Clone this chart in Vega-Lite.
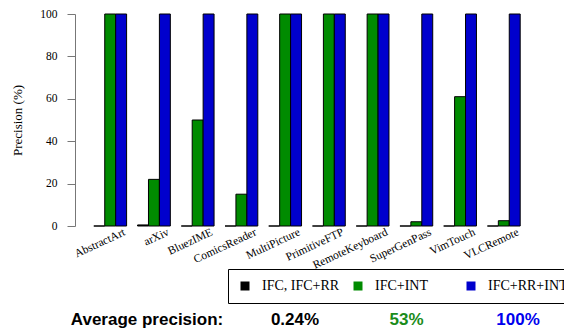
{
  "$schema": "https://vega.github.io/schema/vega-lite/v6.json",
  "padding": {"left": 11, "top": 8, "right": 0, "bottom": 0},
  "spacing": 7,
  "config": {"view": {"stroke": null}, "font": "Liberation Serif"},
  "resolve": {"scale": {"color": "independent", "x": "independent"}, "legend": {"color": "independent"}},
  "vconcat": [
    {
      "width": 464,
      "height": 212,
      "data": {"values": [
        {"app": "AbstractArt", "config": "IFC, IFC+RR", "precision": 0},
        {"app": "AbstractArt", "config": "IFC+INT", "precision": 100},
        {"app": "AbstractArt", "config": "IFC+RR+INT", "precision": 100},
        {"app": "arXiv", "config": "IFC, IFC+RR", "precision": 0.5},
        {"app": "arXiv", "config": "IFC+INT", "precision": 22},
        {"app": "arXiv", "config": "IFC+RR+INT", "precision": 100},
        {"app": "BluezIME", "config": "IFC, IFC+RR", "precision": 0},
        {"app": "BluezIME", "config": "IFC+INT", "precision": 50},
        {"app": "BluezIME", "config": "IFC+RR+INT", "precision": 100},
        {"app": "ComicsReader", "config": "IFC, IFC+RR", "precision": 0},
        {"app": "ComicsReader", "config": "IFC+INT", "precision": 15},
        {"app": "ComicsReader", "config": "IFC+RR+INT", "precision": 100},
        {"app": "MultiPicture", "config": "IFC, IFC+RR", "precision": 0},
        {"app": "MultiPicture", "config": "IFC+INT", "precision": 100},
        {"app": "MultiPicture", "config": "IFC+RR+INT", "precision": 100},
        {"app": "PrimitiveFTP", "config": "IFC, IFC+RR", "precision": 0},
        {"app": "PrimitiveFTP", "config": "IFC+INT", "precision": 100},
        {"app": "PrimitiveFTP", "config": "IFC+RR+INT", "precision": 100},
        {"app": "RemoteKeyboard", "config": "IFC, IFC+RR", "precision": 0},
        {"app": "RemoteKeyboard", "config": "IFC+INT", "precision": 100},
        {"app": "RemoteKeyboard", "config": "IFC+RR+INT", "precision": 100},
        {"app": "SuperGenPass", "config": "IFC, IFC+RR", "precision": 0},
        {"app": "SuperGenPass", "config": "IFC+INT", "precision": 2},
        {"app": "SuperGenPass", "config": "IFC+RR+INT", "precision": 100},
        {"app": "VimTouch", "config": "IFC, IFC+RR", "precision": 0},
        {"app": "VimTouch", "config": "IFC+INT", "precision": 61},
        {"app": "VimTouch", "config": "IFC+RR+INT", "precision": 100},
        {"app": "VLCRemote", "config": "IFC, IFC+RR", "precision": 0},
        {"app": "VLCRemote", "config": "IFC+INT", "precision": 2.5},
        {"app": "VLCRemote", "config": "IFC+RR+INT", "precision": 100}
      ]},
      "mark": {"type": "bar", "stroke": "black", "strokeWidth": 1},
      "encoding": {
        "x": {
          "field": "app", "type": "nominal", "sort": null,
          "scale": {"paddingInner": 0.25, "paddingOuter": 0.43},
          "axis": {"title": null, "domain": false, "ticks": false, "labelAngle": -25, "labelAlign": "right", "labelBaseline": "top", "labelFont": "Liberation Serif", "labelFontSize": 11.5, "labelColor": "black", "labelPadding": 0, "labelOffset": 12}
        },
        "xOffset": {"field": "config", "type": "nominal", "sort": ["IFC, IFC+RR", "IFC+INT", "IFC+RR+INT"]},
        "y": {
          "field": "precision", "type": "quantitative",
          "scale": {"domain": [0, 100], "nice": false},
          "axis": {"title": "Precision (%)", "values": [0, 20, 40, 60, 80, 100], "grid": false, "domainColor": "#777", "tickColor": "#777", "tickSize": 8, "labelPadding": 10, "labelFont": "Liberation Serif", "labelFontSize": 11.5, "labelColor": "black", "titleFont": "Liberation Serif", "titleFontSize": 13, "titleFontWeight": "normal", "titleColor": "black", "titlePadding": 15}
        },
        "color": {
          "field": "config", "type": "nominal",
          "scale": {"domain": ["IFC, IFC+RR", "IFC+INT", "IFC+RR+INT"], "range": ["#000000", "#008B00", "#0000CD"]},
          "legend": {"orient": "none", "legendX": 153, "legendY": 255, "direction": "horizontal", "columns": 3, "title": null, "strokeColor": "black", "padding": 10, "symbolType": "square", "symbolSize": 81, "symbolStrokeWidth": 0, "labelFont": "Liberation Serif", "labelFontSize": 14, "labelColor": "black", "labelOffset": 10, "columnPadding": 9, "gridAlign": "all", "labelLimit": 200}
        }
      }
    },
    {
      "width": 464,
      "height": 16,
      "data": {"values": [
        {"key": "label", "text": "Average precision:"},
        {"key": "IFC, IFC+RR", "text": "0.24%"},
        {"key": "IFC+INT", "text": "53%"},
        {"key": "IFC+RR+INT", "text": "100%"}
      ]},
      "resolve": {"scale": {"x": "independent"}},
      "layer": [
        {
          "transform": [{"filter": "datum.key === 'label'"}],
          "mark": {"type": "text", "font": "Liberation Sans", "fontWeight": "bold", "fontSize": 17, "baseline": "middle", "align": "center", "color": "black"},
          "encoding": {
            "x": {"field": "key", "type": "nominal", "scale": {"type": "point", "range": [0, 144], "padding": 0}, "axis": null},
            "text": {"field": "text"}
          }
        },
        {
          "transform": [{"filter": "datum.key !== 'label'"}],
          "mark": {"type": "text", "font": "Liberation Sans", "fontWeight": "bold", "fontSize": 17, "baseline": "middle", "align": "center"},
          "encoding": {
            "x": {"field": "key", "type": "nominal", "sort": null, "scale": {"type": "point", "range": [220, 443], "padding": 0}, "axis": null},
            "text": {"field": "text"},
            "color": {"field": "key", "type": "nominal", "scale": {"domain": ["IFC, IFC+RR", "IFC+INT", "IFC+RR+INT"], "range": ["#000000", "#1A8C1A", "#0000EE"]}, "legend": null}
          }
        }
      ]
    }
  ]
}
